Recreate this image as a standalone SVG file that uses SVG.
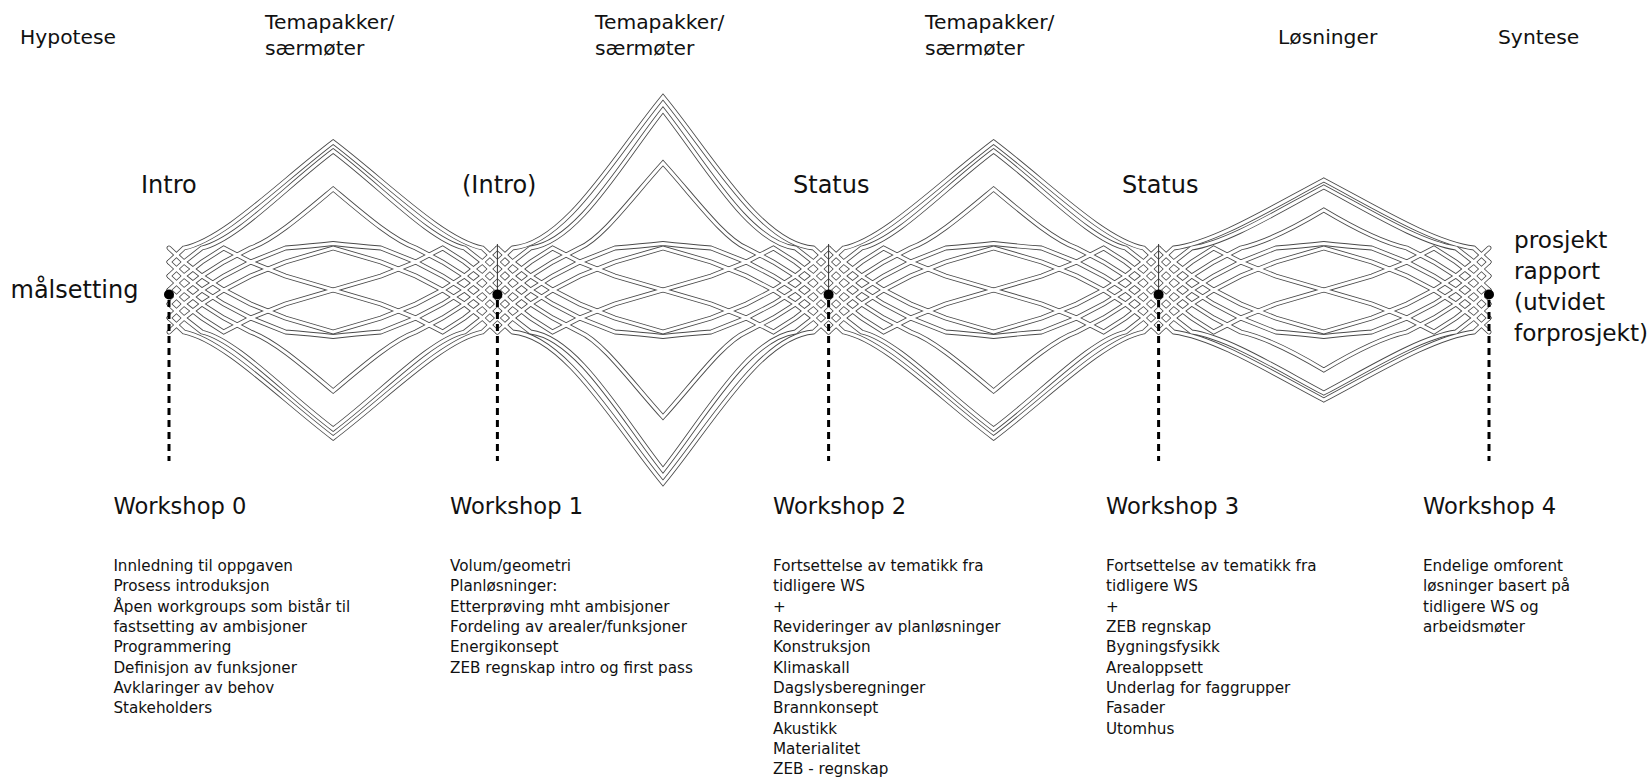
<svg xmlns="http://www.w3.org/2000/svg" width="1652" height="777" viewBox="0 0 1652 777">
  <style>
    text { font-family: "DejaVu Sans", "Liberation Sans", sans-serif; fill: #111; }
    .phase { font-size: 20.3px; }
    .step { font-size: 24px; }
    .out { font-size: 23.2px; }
    .ws { font-size: 22.6px; }
    .item { font-size: 15.2px; }
    .stem { stroke: #000; stroke-width: 3; stroke-dasharray: 7 5; fill: none; }
    .tick { stroke: #333; stroke-width: 1; fill: none; }
  </style>
  <defs>
    <!-- ribbons that stay in the band or run along its edge (upper set; lower set is mirrored) -->
    <g id="band">
      <path d="M0,42 L15,28 L33,14 L55,0 L82,-14 L117,-28 L165,-42 L213,-28 L248,-14 L275,0 L297,14 L315,28 L330,42"/>
      <path d="M0,0 L15,-14 L33,-28 L55,-42 L82,-28 L117,-14 L165,0 L213,-14 L248,-28 L275,-42 L297,-28 L315,-14 L330,0"/>
      <path d="M0,28 L15,14 L33,0 L55,-14 L82,-28 L117,-42 Q143,-44 165,-46.5 Q187,-44 213,-42 L248,-28 L275,-14 L297,0 L315,14 L330,28"/>
    </g>
    <!-- ribbons leaving the band towards a peak: medium height -->
    <g id="peaks-mid">
      <path d="M0,-28 L15,-42 C55,-50 112,-108 165,-148 C218,-108 275,-50 315,-42 L330,-28"/>
      <path d="M0,-14 L15,-28 L33,-42 C68,-50 118,-104 165,-139 C212,-104 262,-50 297,-42 L315,-28 L330,-14"/>
      <path d="M0,14 L15,0 L33,-14 L55,-28 L82,-42 C105,-50 135,-76 165,-101 C195,-76 225,-50 248,-42 L275,-28 L297,-14 L315,0 L330,14"/>
    </g>
    <!-- tall peaks -->
    <g id="peaks-high">
      <path d="M0,-28 L15,-42 C68,-46 118,-136 165,-193 C212,-136 262,-46 315,-42 L330,-28"/>
      <path d="M0,-14 L15,-28 L33,-42 C80,-48 124,-128 165,-180 C206,-128 250,-48 297,-42 L315,-28 L330,-14"/>
      <path d="M0,14 L15,0 L33,-14 L55,-28 L82,-42 C105,-52 135,-94 165,-127 C195,-94 225,-52 248,-42 L275,-28 L297,-14 L315,0 L330,14"/>
    </g>
    <!-- low peaks -->
    <g id="peaks-low">
      <path d="M0,-28 L15,-42 C55,-47 112,-82 165,-110 C218,-82 275,-47 315,-42 L330,-28"/>
      <path d="M0,-14 L15,-28 L33,-42 C68,-47 118,-78 165,-103 C212,-78 262,-47 297,-42 L315,-28 L330,-14"/>
      <path d="M0,14 L15,0 L33,-14 L55,-28 L82,-42 C105,-47 135,-62 165,-80 C195,-62 225,-47 248,-42 L275,-28 L297,-14 L315,0 L330,14"/>
    </g>
    <g id="seg-mid">
      <use href="#band"/><use href="#band" transform="scale(1,-1)"/>
      <use href="#peaks-mid"/><use href="#peaks-mid" transform="scale(1,-1)"/>
    </g>
    <g id="seg-high">
      <use href="#band"/><use href="#band" transform="scale(1,-1)"/>
      <use href="#peaks-high"/><use href="#peaks-high" transform="scale(1,-1)"/>
    </g>
    <g id="seg-low">
      <use href="#band"/><use href="#band" transform="scale(1,-1)"/>
      <use href="#peaks-low"/><use href="#peaks-low" transform="scale(1,-1)"/>
    </g>
    <g id="weave-shape" fill="none">
      <use href="#seg-mid" transform="translate(169,290) scale(0.995,1)"/>
      <use href="#seg-high" transform="translate(497.4,290) scale(1.0036,1)"/>
      <use href="#seg-mid" transform="translate(828.6,290)"/>
      <use href="#seg-low" transform="translate(1158.6,290) scale(1.0012,1)"/>
    </g>
  </defs>

  <rect width="1652" height="777" fill="#fff"/>

  <!-- woven ribbons: dark outline pass, then white core pass -->
  <g id="weave" stroke-linejoin="miter" stroke-miterlimit="10" stroke-linecap="round">
    <use href="#weave-shape" stroke="#4a4a4a" stroke-width="4.8"/>
    <use href="#weave-shape" stroke="#ffffff" stroke-width="3.1"/>
  </g>

  <!-- phase labels along the top -->
  <g id="phases">
    <text class="phase" x="20" y="44">Hypotese</text>
    <text class="phase" x="265" y="29">Temapakker/</text>
    <text class="phase" x="265" y="55">særmøter</text>
    <text class="phase" x="595" y="29">Temapakker/</text>
    <text class="phase" x="595" y="55">særmøter</text>
    <text class="phase" x="925" y="29">Temapakker/</text>
    <text class="phase" x="925" y="55">særmøter</text>
    <text class="phase" x="1278" y="44">Løsninger</text>
    <text class="phase" x="1498" y="44">Syntese</text>
    <text class="step" x="141" y="193">Intro</text>
    <text class="step" x="462" y="193">(Intro)</text>
    <text class="step" x="793" y="193">Status</text>
    <text class="step" x="1122" y="193">Status</text>
  </g>

  <!-- connectors: dashed stems and band ticks -->
  <g id="connectors">
    <line class="stem" x1="169" y1="300" x2="169" y2="461"/>
    <line class="stem" x1="497.4" y1="300" x2="497.4" y2="461"/>
    <line class="stem" x1="828.6" y1="300" x2="828.6" y2="461"/>
    <line class="stem" x1="1158.6" y1="300" x2="1158.6" y2="461"/>
    <line class="stem" x1="1489" y1="300" x2="1489" y2="461"/>
    <line class="tick" x1="497.4" y1="244" x2="497.4" y2="294"/>
    <line class="tick" x1="828.6" y1="244" x2="828.6" y2="294"/>
    <line class="tick" x1="1158.6" y1="244" x2="1158.6" y2="294"/>
  </g>

  <g id="start-node">
    <text class="step" x="10.5" y="298">målsetting</text>
  </g>

  <g id="ws0">
    <circle cx="169" cy="294.5" r="5" fill="#000"/>
    <text class="ws" x="113.4" y="513.5">Workshop 0</text>
    <text class="item" x="113.4" y="571">Innledning til oppgaven</text>
    <text class="item" x="113.4" y="591.3">Prosess introduksjon</text>
    <text class="item" x="113.4" y="611.7">Åpen workgroups som bistår til</text>
    <text class="item" x="113.4" y="632">fastsetting av ambisjoner</text>
    <text class="item" x="113.4" y="652.3">Programmering</text>
    <text class="item" x="113.4" y="672.7">Definisjon av funksjoner</text>
    <text class="item" x="113.4" y="693">Avklaringer av behov</text>
    <text class="item" x="113.4" y="713.3">Stakeholders</text>
  </g>

  <g id="ws1">
    <circle cx="497.4" cy="294.5" r="5" fill="#000"/>
    <text class="ws" x="450" y="513.5">Workshop 1</text>
    <text class="item" x="450" y="571">Volum/geometri</text>
    <text class="item" x="450" y="591.3">Planløsninger:</text>
    <text class="item" x="450" y="611.7">Etterprøving mht ambisjoner</text>
    <text class="item" x="450" y="632">Fordeling av arealer/funksjoner</text>
    <text class="item" x="450" y="652.3">Energikonsept</text>
    <text class="item" x="450" y="672.7">ZEB regnskap intro og first pass</text>
  </g>

  <g id="ws2">
    <circle cx="828.6" cy="294.5" r="5" fill="#000"/>
    <text class="ws" x="773" y="513.5">Workshop 2</text>
    <text class="item" x="773" y="571">Fortsettelse av tematikk fra</text>
    <text class="item" x="773" y="591.3">tidligere WS</text>
    <text class="item" x="773" y="611.7">+</text>
    <text class="item" x="773" y="632">Revideringer av planløsninger</text>
    <text class="item" x="773" y="652.3">Konstruksjon</text>
    <text class="item" x="773" y="672.7">Klimaskall</text>
    <text class="item" x="773" y="693">Dagslysberegninger</text>
    <text class="item" x="773" y="713.3">Brannkonsept</text>
    <text class="item" x="773" y="733.7">Akustikk</text>
    <text class="item" x="773" y="754">Materialitet</text>
    <text class="item" x="773" y="774.3">ZEB - regnskap</text>
  </g>

  <g id="ws3">
    <circle cx="1158.6" cy="294.5" r="5" fill="#000"/>
    <text class="ws" x="1106" y="513.5">Workshop 3</text>
    <text class="item" x="1106" y="571">Fortsettelse av tematikk fra</text>
    <text class="item" x="1106" y="591.3">tidligere WS</text>
    <text class="item" x="1106" y="611.7">+</text>
    <text class="item" x="1106" y="632">ZEB regnskap</text>
    <text class="item" x="1106" y="652.3">Bygningsfysikk</text>
    <text class="item" x="1106" y="672.7">Arealoppsett</text>
    <text class="item" x="1106" y="693">Underlag for faggrupper</text>
    <text class="item" x="1106" y="713.3">Fasader</text>
    <text class="item" x="1106" y="733.7">Utomhus</text>
  </g>

  <g id="ws4">
    <circle cx="1489" cy="294.5" r="5" fill="#000"/>
    <text class="ws" x="1423" y="513.5">Workshop 4</text>
    <text class="item" x="1423" y="571">Endelige omforent</text>
    <text class="item" x="1423" y="591.3">løsninger basert på</text>
    <text class="item" x="1423" y="611.7">tidligere WS og</text>
    <text class="item" x="1423" y="632">arbeidsmøter</text>
  </g>

  <g id="end-node">
    <text class="out" x="1514" y="248">prosjekt</text>
    <text class="out" x="1514" y="279">rapport</text>
    <text class="out" x="1514" y="310">(utvidet</text>
    <text class="out" x="1514" y="341">forprosjekt)</text>
  </g>
</svg>
